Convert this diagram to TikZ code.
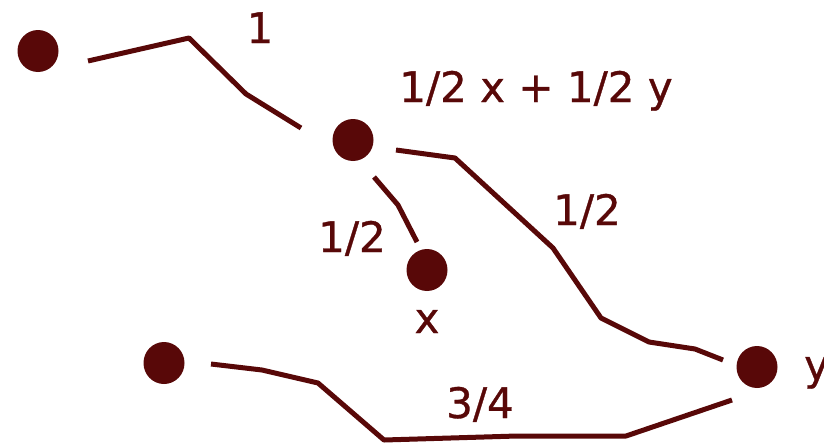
\documentclass[tikz,border=0pt]{standalone}
\usepackage{fontspec}
\setmainfont{DejaVu Sans}[UprightFeatures={FakeBold=0.8}]
\usetikzlibrary{calc,shapes.geometric}
\definecolor{maroon}{HTML}{580808}
\tikzset{
  dot/.style={ellipse, fill=maroon, inner sep=0pt, minimum width=41pt, minimum height=42pt},
  wire/.style={draw=maroon, line width=5pt, line join=round, line cap=butt},
  lbl/.style={text=maroon, inner sep=0pt, anchor=base, font=\fontsize{42}{48}\selectfont}
}
\begin{document}
\begin{tikzpicture}[x=1pt,y=-1pt]
\useasboundingbox (0,0) rectangle (824,445);
% dots
\node[dot] (A) at (38,51) {};
\node[dot] (B) at (353,140) {};
\node[dot] (X) at (427,270) {};
\node[dot] (C) at (164,363) {};
\node[dot] (Y) at (757,367) {};
% connectors
\draw[wire] ($(A)+(50,10)$) -- (189,38) -- (246,94) -- ($(B)+(-52,-12)$);
\draw[wire] ($(B)+(43,10)$) -- (455,158) -- (553,248) -- (601,318) -- (649,342) -- (695,349) -- ($(Y)+(-34,-7)$);
\draw[wire] ($(B)+(21,37)$) -- (398,205) -- ($(X)+(-10,-28)$);
\draw[wire] ($(C)+(47,1)$) -- (262,370) -- (318,383) -- (384,440) -- (517,436) -- (626,436) -- ($(Y)+(-25,33)$);
% labels
\node[lbl] (l1) at (260,43) {1};
\node[lbl] (lxy) at (536,102) {1/2 x + 1/2 y};
\node[lbl] (lr) at (587,225) {1/2};
\node[lbl] (ll) at (352,252) {1/2};
\node[lbl] (lx) at (427,333) {x};
\node[lbl] (l34) at (480,418) {3/4};
\node[lbl, anchor=base west] (ly) at (804,380) {y};
\end{tikzpicture}
\end{document}
